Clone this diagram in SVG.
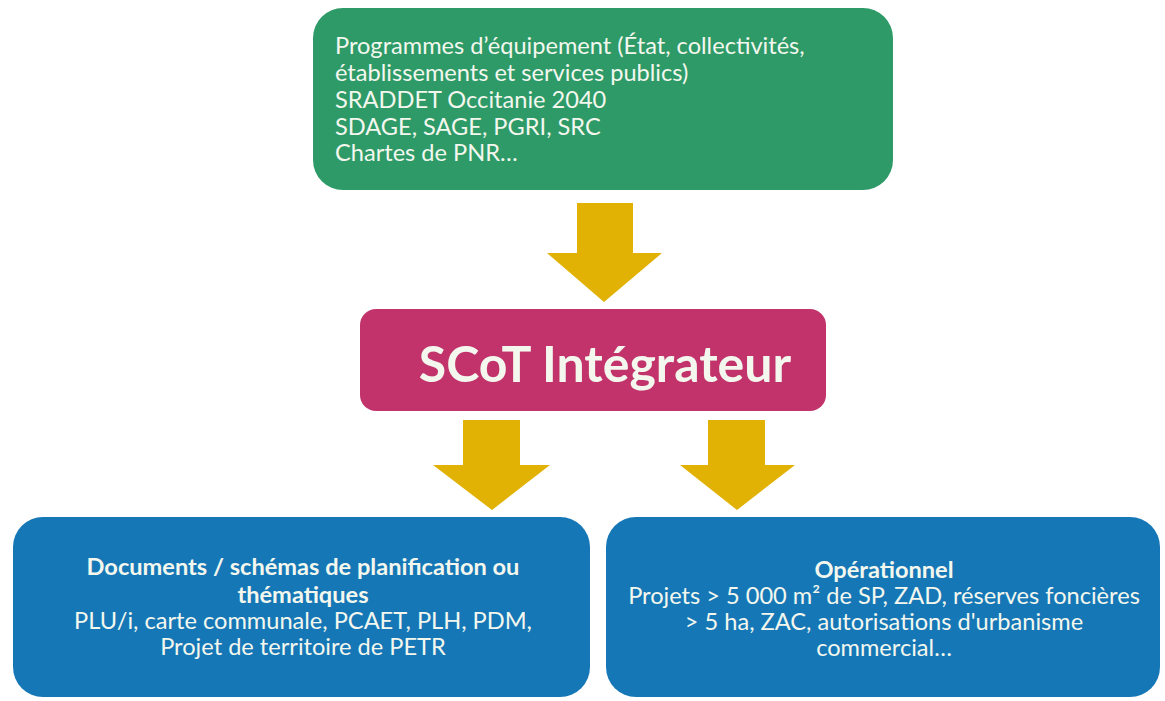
<svg xmlns="http://www.w3.org/2000/svg" width="1165" height="701" viewBox="0 0 1165 701">
<style>
.t{font-family:Lato,"Open Sans","Liberation Sans",sans-serif;font-size:23.6px;fill:#f3f7ee}
.b{font-weight:bold;font-size:23.6px}
.c{text-anchor:middle}
.arrow{fill:#e1b103}
</style>
<rect width="1165" height="701" fill="#ffffff"/>
<g id="connectors">
<polygon class="arrow" points="577,203 633,203 633,253 662,253 604,302 547,253 577,253"/>
<polygon class="arrow" points="463,420 520,420 520,465 550,465 492,510 433,465 463,465"/>
<polygon class="arrow" points="708,420 765,420 765,465 795,465 737,510 680,465 708,465"/>
</g>
<g id="sources">
<rect x="313" y="8" width="580" height="182" rx="30" fill="#2e9a68"/>
<text class="t" x="335" y="54">Programmes d’équipement (État, collectivités,</text>
<text class="t" x="335" y="81">établissements et services publics)</text>
<text class="t" x="335" y="108">SRADDET Occitanie 2040</text>
<text class="t" x="335" y="135">SDAGE, SAGE, PGRI, SRC</text>
<text class="t" x="335" y="161">Chartes de PNR…</text>
</g>
<g id="scot">
<rect x="360" y="309" width="466" height="102" rx="16" fill="#c2336c"/>
<text class="t b c" x="605" y="382" style="font-size:50px">SCoT Intégrateur</text>
</g>
<g id="documents">
<rect x="13" y="517" width="577" height="180" rx="30" fill="#1677b7"/>
<text class="t b c" x="303" y="575">Documents / schémas de planification ou</text>
<text class="t b c" x="303" y="603">thématiques</text>
<text class="t c" x="303" y="629">PLU/i, carte communale, PCAET, PLH, PDM,</text>
<text class="t c" x="303" y="655">Projet de territoire de PETR</text>
</g>
<g id="operationnel">
<rect x="606" y="517" width="554" height="180" rx="30" fill="#1677b7"/>
<text class="t b c" x="884" y="578">Opérationnel</text>
<text class="t c" x="884" y="604">Projets &gt; 5 000 m² de SP, ZAD, réserves foncières</text>
<text class="t c" x="884" y="630">&gt; 5 ha, ZAC, autorisations d'urbanisme</text>
<text class="t c" x="884" y="656">commercial…</text>
</g>
</svg>
